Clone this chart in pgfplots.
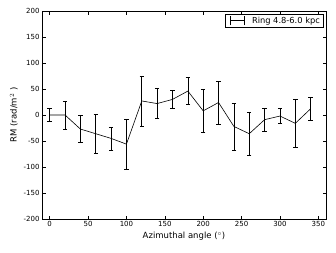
\documentclass[border=0pt]{standalone}
\usepackage{pgfplots}
\pgfplotsset{compat=1.18}
\usepackage{fontspec}
\setmainfont{DejaVu Sans}
\begin{document}
\begin{tikzpicture}[x=1pt,y=1pt]
\begin{axis}[
  at={(0,0)}, anchor=south west,
  scale only axis, width=284pt, height=208pt,
  xmin=-10, xmax=360, ymin=-200, ymax=200,
  xtick={0,50,...,350}, ytick={-200,-150,...,200},
  tick align=inside, tick pos=both,
  major tick length=3.5pt,
  minor tick num=0,
  axis line style={line width=0.6pt},
  tick style={line width=0.5pt, black},
  /pgf/number format/assume math mode=true,
  ticklabel style={font=\fontsize{7}{8}\selectfont},
  xticklabel style={yshift=1pt},
  yticklabel style={xshift=1pt},
  xlabel={Azimuthal angle ($^\circ$)},
  ylabel={RM (rad/m$^2$ )},
  label style={font=\fontsize{8.5}{9}\selectfont},
  xlabel style={yshift=2pt},
  ylabel style={yshift=-1pt},
  legend style={draw=black, line width=0.5pt, sharp corners, at={(rel axis cs:0.99,0.985)}, anchor=north east, font=\fontsize{8.3}{9}\selectfont, inner xsep=1pt, inner ysep=0.5pt},
  legend cell align=left,
]
\addplot[black, line width=0.6pt, mark=none,
  error bars/.cd, y dir=both, y explicit,
  error bar style={line width=0.6pt, black},
  error mark options={rotate=90, mark size=2.2pt, line width=0.6pt, black}]
  coordinates {
  (0,0) +- (0,13)
  (20,0) +- (0,27)
  (40,-27) +- (0,26)
  (60,-36) +- (0,37)
  (80,-45) +- (0,22)
  (100,-56) +- (0,48)
  (120,27) +- (0,48)
  (140,22) +- (0,29)
  (160,30) +- (0,18)
  (180,46) +- (0,26)
  (200,8) +- (0,42)
  (220,24) +- (0,41)
  (240,-22) +- (0,45)
  (260,-36) +- (0,41)
  (280,-9) +- (0,22)
  (300,-2) +- (0,14)
  (320,-16) +- (0,46)
  (340,12) +- (0,23)
  };
\addlegendimage{legend image code/.code={
  \path (-4pt,0pt) (19pt,0pt);
  \draw[black, line width=0.6pt] (0pt,0pt)--(14pt,0pt);
  \draw[black, line width=0.6pt] (0pt,-4.5pt)--(0pt,4.5pt);
  \draw[black, line width=0.6pt] (14pt,-4.5pt)--(14pt,4.5pt);}}
\legend{,Ring 4.8-6.0 kpc}
\end{axis}
\path[use as bounding box] (-42,-33) rectangle (294,219);
\end{tikzpicture}
\end{document}
